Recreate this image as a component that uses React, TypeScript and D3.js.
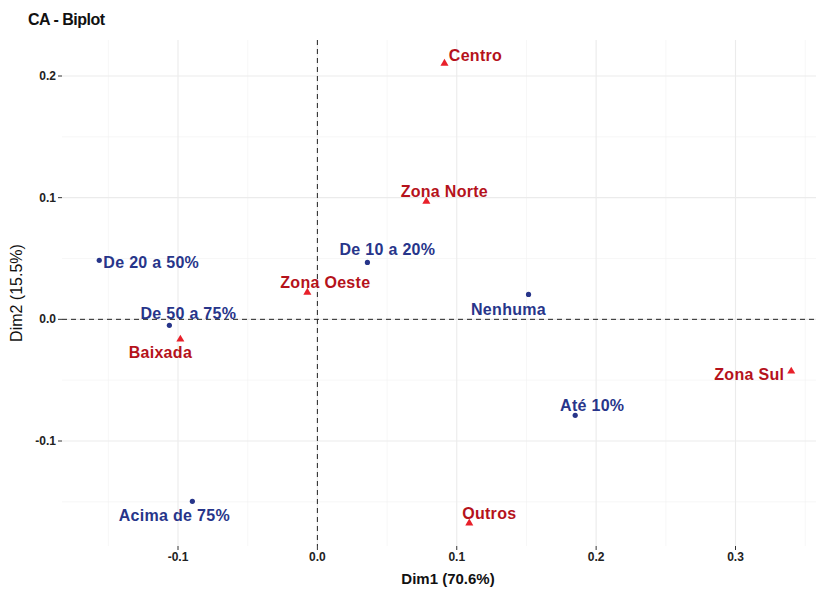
import React from "react";
import * as d3 from "d3";

const rowNames = ["De 20 a 50%", "De 10 a 20%", "De 50 a 75%", "Nenhuma", "Até 10%", "Acima de 75%"];
const rowDim1 = [-0.1565, 0.0359, -0.1062, 0.1515, 0.185, -0.0897];
const rowDim2 = [0.0485, 0.0468, -0.0049, 0.0205, -0.0789, -0.1496];
// label nudges (px) as placed by the repel algorithm
const rowLabelDx = [52, 20, 19, -20, 17, -18];
const rowLabelDy = [8, -7, -6, 21, -4, 20];

const colNames = ["Centro", "Zona Norte", "Zona Oeste", "Baixada", "Zona Sul", "Outros"];
const colDim1 = [0.0912, 0.0782, -0.0072, -0.0983, 0.340, 0.109];
const colDim2 = [0.2104, 0.097, 0.0222, -0.0164, -0.0427, -0.1676];
const colLabelDx = [31, 18, 18, -20, -42, 20];
const colLabelDy = [-2, -4, -4, 19, 9, -4];

const xTicks = [-0.1, 0.0, 0.1, 0.2, 0.3];
const yTicks = [-0.1, 0.0, 0.1, 0.2];
const xMinor = [-0.15, -0.05, 0.05, 0.15, 0.25, 0.35];
const yMinor = [-0.15, -0.05, 0.05, 0.15];

const W = 816, H = 592;
const left = 62, right = 816, top = 40, bottom = 546;

export default function App() {
  const x = d3.scaleLinear().domain([-0.1, 0.3]).range([178, 735.5]);
  const y = d3.scaleLinear().domain([-0.1, 0.2]).range([441, 76]);
  const blue = "#27358a";
  const redPt = "#e8202a";
  const redTxt = "#b5121b";
  const font = "'Liberation Sans', Arial, sans-serif";
  const tri = d3.symbol().type(d3.symbolTriangle).size(28)();
  const fmt = (v: number) => d3.format(".1f")(v).replace("\u2212", "-");
  return (
    <svg width={W} height={H} style={{ position: "absolute", left: 0, top: 0, background: "#fff" }}>
      <rect x={0} y={0} width={W} height={H} fill="#fff" />
      <g>
        {xMinor.map((t) => (
          <line key={"xm" + t} x1={x(t)} x2={x(t)} y1={top} y2={bottom} stroke="#f2f2f2" strokeWidth={0.6} />
        ))}
        {yMinor.map((t) => (
          <line key={"ym" + t} x1={left} x2={right} y1={y(t)} y2={y(t)} stroke="#f2f2f2" strokeWidth={0.6} />
        ))}
        {xTicks.map((t) => (
          <line key={"xg" + t} x1={x(t)} x2={x(t)} y1={top} y2={bottom} stroke="#ebebeb" strokeWidth={1.1} />
        ))}
        {yTicks.map((t) => (
          <line key={"yg" + t} x1={left} x2={right} y1={y(t)} y2={y(t)} stroke="#ebebeb" strokeWidth={1.1} />
        ))}
      </g>
      <line x1={left} x2={right} y1={y(0)} y2={y(0)} stroke="#222" strokeWidth={1} strokeDasharray="5,4" />
      <line x1={x(0)} x2={x(0)} y1={top} y2={bottom} stroke="#222" strokeWidth={1} strokeDasharray="5,4" />
      {xTicks.map((t) => (
        <g key={"xt" + t}>
          <line x1={x(t)} x2={x(t)} y1={bottom} y2={bottom + 4} stroke="#333" strokeWidth={1} />
          <text x={x(t)} y={bottom + 15} textAnchor="middle" fontFamily={font} fontWeight="bold" fontSize={12} fill="#222">
            {fmt(t)}
          </text>
        </g>
      ))}
      {yTicks.map((t) => (
        <g key={"yt" + t}>
          <line x1={left - 4} x2={left} y1={y(t)} y2={y(t)} stroke="#333" strokeWidth={1} />
          <text x={left - 6} y={y(t) + 4} textAnchor="end" fontFamily={font} fontWeight="bold" fontSize={12} fill="#222">
            {fmt(t)}
          </text>
        </g>
      ))}
      {rowNames.map((n, i) => (
        <circle key={"rp" + n} cx={x(rowDim1[i])} cy={y(rowDim2[i])} r={2.6} fill={blue} />
      ))}
      {colNames.map((n, i) => (
        <path key={"cp" + n} d={tri} transform={`translate(${x(colDim1[i])},${y(colDim2[i])})`} fill={redPt} />
      ))}
      {rowNames.map((n, i) => (
        <text key={"rl" + n} x={x(rowDim1[i]) + rowLabelDx[i]} y={y(rowDim2[i]) + rowLabelDy[i]} textAnchor="middle"
          fontFamily={font} fontWeight="bold" fontSize={16} fill={blue} letterSpacing={0.3}>
          {n}
        </text>
      ))}
      {colNames.map((n, i) => (
        <text key={"cl" + n} x={x(colDim1[i]) + colLabelDx[i]} y={y(colDim2[i]) + colLabelDy[i]} textAnchor="middle"
          fontFamily={font} fontWeight="bold" fontSize={16} fill={redTxt} letterSpacing={0.3}>
          {n}
        </text>
      ))}
      <text x={28} y={25} fontFamily={font} fontWeight="bold" fontSize={16} fill="#111" letterSpacing={-0.5}>CA - Biplot</text>
      <text x={448} y={584} textAnchor="middle" fontFamily={font} fontWeight="bold" fontSize={15} fill="#111">Dim1 (70.6%)</text>
      <text transform={`translate(22,${(top + bottom) / 2}) rotate(-90)`} textAnchor="middle" fontFamily={font} fontSize={16} fill="#111">Dim2 (15.5%)</text>
    </svg>
  );
}
